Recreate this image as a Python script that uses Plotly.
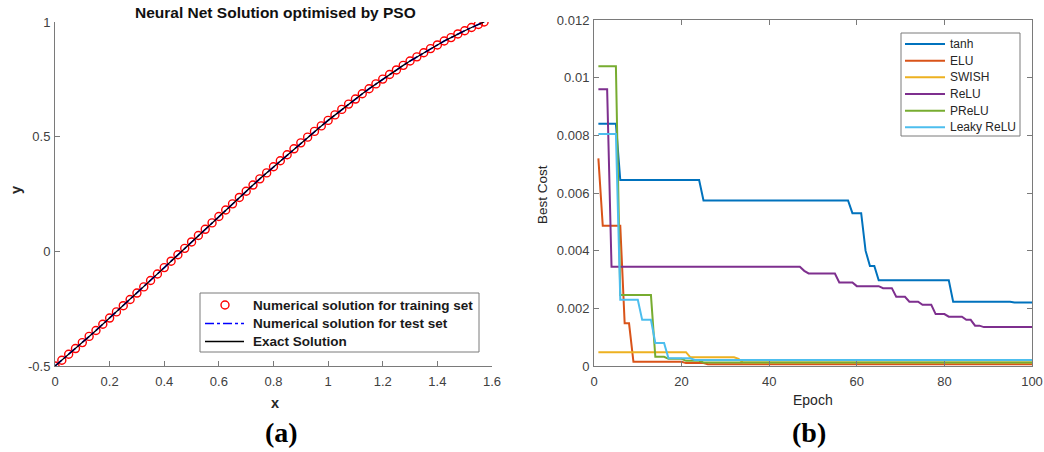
import plotly.graph_objects as go

# ---- (a) neural-net solution of the ODE on [0, pi/2] ----
x_grid = [0.0, 0.025, 0.05, 0.075, 0.1, 0.125, 0.15, 0.175, 0.2, 0.225, 0.25, 0.275,
          0.3, 0.325, 0.35, 0.375, 0.4, 0.425, 0.45, 0.475, 0.5, 0.525, 0.55, 0.575,
          0.6, 0.625, 0.65, 0.675, 0.7, 0.725, 0.75, 0.775, 0.8, 0.825, 0.85, 0.875,
          0.9, 0.925, 0.95, 0.975, 1.0, 1.025, 1.05, 1.075, 1.1, 1.125, 1.15, 1.175,
          1.2, 1.225, 1.25, 1.275, 1.3, 1.325, 1.35, 1.375, 1.4, 1.425, 1.45, 1.475,
          1.5, 1.525, 1.55, 1.571]
y_train = [-0.5, -0.475, -0.449, -0.424, -0.398, -0.371, -0.345, -0.318, -0.291, -0.264,
           -0.237, -0.210, -0.182, -0.155, -0.127, -0.099, -0.071, -0.043, -0.015, 0.013,
           0.041, 0.069, 0.096, 0.124, 0.152, 0.180, 0.207, 0.235, 0.262, 0.289,
           0.316, 0.342, 0.369, 0.395, 0.421, 0.447, 0.473, 0.498, 0.523, 0.547,
           0.571, 0.595, 0.619, 0.642, 0.664, 0.687, 0.709, 0.730, 0.751, 0.771,
           0.791, 0.811, 0.830, 0.848, 0.866, 0.884, 0.900, 0.917, 0.932, 0.948,
           0.962, 0.976, 0.989, 1.000]
y_test = list(y_train)
y_exact = list(y_train)
sol_names = ["Numerical solution for training set", "Numerical solution for test set", "Exact Solution"]

# ---- (b) best cost per epoch for each activation ----
epochs = list(range(1, 101))
cost_tanh = [0.0084]*5 + [0.00645]*19 + [0.00574]*34 + [0.0053]*3 + [0.0040] + \
            [0.00347]*2 + [0.00297]*17 + [0.00223]*14 + [0.0022]*5
cost_elu = [0.0072] + [0.00486]*5 + [0.00148]*2 + [0.00015]*12 + [0.0001]*5 + [0.00006]*75
cost_swish = [0.00048]*21 + [0.0003]*11 + [0.00025] + [0.00012]*67
cost_relu = [0.0096]*3 + [0.00344]*44 + [0.0033] + [0.00321]*7 + [0.0029]*4 + \
            [0.00277]*6 + [0.0027]*3 + [0.0024]*3 + [0.00223]*3 + [0.00212]*3 + \
            [0.0018]*3 + [0.00171]*4 + [0.0016]*2 + [0.0014]*2 + [0.00135]*12
cost_prelu = [0.0104]*5 + [0.00246]*8 + [0.00032]*3 + [0.00025]*4 + [0.00018]*4 + [0.00012]*76
cost_leaky = [0.00805]*5 + [0.0023]*5 + [0.0016]*3 + [0.0008]*3 + [0.00027]*6 + [0.00021]*78

series_names = ["tanh", "ELU", "SWISH", "ReLU", "PReLU", "Leaky ReLU"]
series_costs = [cost_tanh, cost_elu, cost_swish, cost_relu, cost_prelu, cost_leaky]
series_colors = ["#0072BD", "#D95319", "#EDB120", "#7E2F8E", "#77AC30", "#4DBEEE"]

W, H = 1044, 452
SANS = "Liberation Sans, Arial, sans-serif"
SERIF = "Liberation Serif, Times New Roman, serif"
AX_COLOR = "#7a7a7a"
TICK_FONT = dict(family=SANS, size=13, color="#404040")

fig = go.Figure()

fig.add_trace(go.Scatter(
    x=x_grid, y=y_train, mode="markers", name=sol_names[0],
    marker=dict(symbol="circle-open", size=8, color="#ff0000", line=dict(width=1.4, color="#ff0000")),
    xaxis="x", yaxis="y", showlegend=False))
fig.add_trace(go.Scatter(
    x=x_grid, y=y_test, mode="lines", name=sol_names[1],
    line=dict(color="#0000ff", width=1.6, dash="dashdot"),
    xaxis="x", yaxis="y", showlegend=False))
fig.add_trace(go.Scatter(
    x=x_grid, y=y_exact, mode="lines", name=sol_names[2],
    line=dict(color="#000000", width=1.3),
    xaxis="x", yaxis="y", showlegend=False))

for name, cost, color in zip(series_names, series_costs, series_colors):
    fig.add_trace(go.Scatter(
        x=epochs, y=cost, mode="lines", name=name,
        line=dict(color=color, width=2),
        xaxis="x2", yaxis="y2", showlegend=False))


def px_x(p):
    return p / W


def px_y(p):
    return 1 - p / H


axis_common = dict(showgrid=False, zeroline=False, showline=True, linecolor=AX_COLOR,
                   linewidth=1, ticks="inside", ticklen=5, tickcolor=AX_COLOR,
                   tickfont=TICK_FONT, automargin=False)

fig.update_layout(
    width=W, height=H, margin=dict(l=0, r=0, t=0, b=0, autoexpand=False),
    paper_bgcolor="white", plot_bgcolor="white", showlegend=False,
    xaxis=dict(domain=[px_x(55), px_x(492)], range=[0, 1.6],
               tickvals=[0, 0.2, 0.4, 0.6, 0.8, 1, 1.2, 1.4, 1.6],
               ticktext=["0", "0.2", "0.4", "0.6", "0.8", "1", "1.2", "1.4", "1.6"],
               anchor="y", ticklabelstandoff=3, **axis_common),
    yaxis=dict(domain=[px_y(366), px_y(22)], range=[-0.5, 1], tickvals=[-0.5, 0, 0.5, 1],
               ticktext=["-0.5", "0", "0.5", "1"], anchor="x", ticklabelstandoff=1, **axis_common),
    xaxis2=dict(domain=[px_x(594), px_x(1032)], range=[0, 100], tickvals=[0, 20, 40, 60, 80, 100],
                anchor="y2", mirror="ticks", ticklabelstandoff=3, **axis_common),
    yaxis2=dict(domain=[px_y(366), px_y(20)], range=[0, 0.012],
                tickvals=[0, 0.002, 0.004, 0.006, 0.008, 0.01, 0.012],
                ticktext=["0", "0.002", "0.004", "0.006", "0.008", "0.01", "0.012"],
                anchor="x2", mirror="ticks", ticklabelstandoff=1, **axis_common),
)

shapes = []
annotations = []


def pshape(**kw):
    kw.update(xref="paper", yref="paper")
    shapes.append(kw)


def ptext(text, x, y, font, xanchor="center", textangle=0):
    annotations.append(dict(text=text, x=px_x(x), y=px_y(y), xref="paper", yref="paper",
                            showarrow=False, xanchor=xanchor, yanchor="middle",
                            textangle=textangle, font=font))


# legend box for (a)
pshape(type="rect", x0=px_x(200), x1=px_x(479), y0=px_y(293), y1=px_y(352),
       line=dict(color=AX_COLOR, width=1), fillcolor="white", layer="above")
leg_a_rows = [305, 323.5, 341.5]
pshape(type="circle", x0=px_x(221), x1=px_x(229), y0=px_y(leg_a_rows[0] - 4), y1=px_y(leg_a_rows[0] + 4),
       line=dict(color="#ff0000", width=1.4), layer="above")
pshape(type="line", x0=px_x(205), x1=px_x(244), y0=px_y(leg_a_rows[1]), y1=px_y(leg_a_rows[1]),
       line=dict(color="#0000ff", width=1.6, dash="dashdot"), layer="above")
pshape(type="line", x0=px_x(205), x1=px_x(244), y0=px_y(leg_a_rows[2]), y1=px_y(leg_a_rows[2]),
       line=dict(color="#000000", width=1.3), layer="above")
for name, ry in zip(sol_names, leg_a_rows):
    ptext("<b>%s</b>" % name, 251, ry, dict(family=SANS, size=13.5, color="#1a1a1a"), xanchor="left")

# legend box for (b)
pshape(type="rect", x0=px_x(901), x1=px_x(1020), y0=px_y(33), y1=px_y(136),
       line=dict(color=AX_COLOR, width=1), fillcolor="white", layer="above")
leg_b_rows = [44, 60.7, 77.3, 94, 110.7, 127.3]
for name, color, ry in zip(series_names, series_colors, leg_b_rows):
    pshape(type="line", x0=px_x(905), x1=px_x(945), y0=px_y(ry), y1=px_y(ry),
           line=dict(color=color, width=2), layer="above")
    ptext(name, 948, ry, dict(family=SANS, size=12, color="#262626"), xanchor="left")

# titles and axis labels
ptext("<b>Neural Net Solution optimised by PSO</b>", 275, 12, dict(family=SANS, size=15.5, color="#111111"))
ptext("<b>x</b>", 275, 403, dict(family=SANS, size=14.5, color="#262626"))
ptext("<b>y</b>", 16, 190, dict(family=SANS, size=14.5, color="#262626"), textangle=-90)
ptext("Epoch", 813, 400, dict(family=SANS, size=14, color="#262626"))
ptext("Best Cost", 543, 195, dict(family=SANS, size=13.5, color="#262626"), textangle=-90)
ptext("<b>(a)</b>", 281, 432, dict(family=SERIF, size=28, color="#000000"))
ptext("<b>(b)</b>", 809, 432, dict(family=SERIF, size=28, color="#000000"))

fig.update_layout(shapes=shapes, annotations=annotations)

fig.write_html("out.html")
